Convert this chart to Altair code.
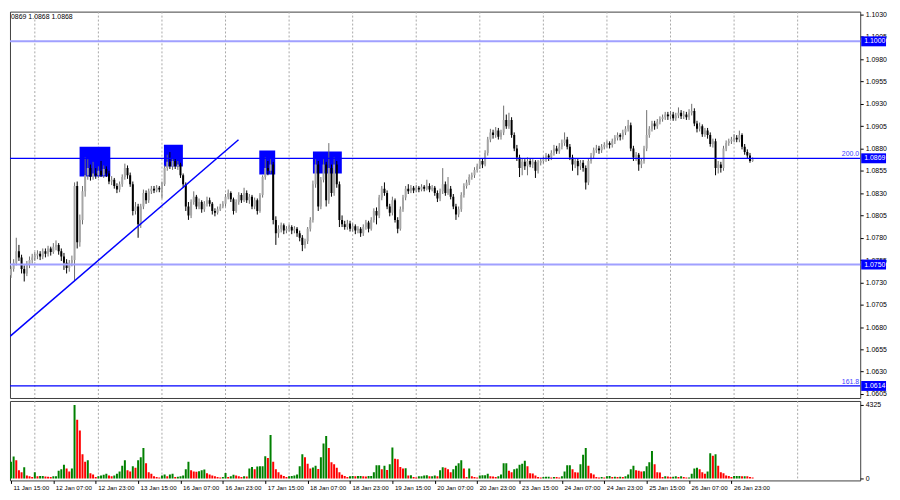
import altair as alt
import pandas as pd

# ---------------- data (prices in units of 1e-4, hourly bars from 11 Jan 12:00) ----------------
open_ = [
    10748,10745,10742,10738,10745,10752,10765,10758,10745,10740,10750,10755,
    10758,10760,10762,10759,10765,10762,10768,10764,10770,10772,10765,10759,
    10752,10746,10752,10755,10838,10775,10800,10832,10850,10858,10848,10852,
    10850,10855,10850,10857,10852,10843,10845,10838,10834,10840,10848,10858,
    10850,10840,10810,10815,10795,10815,10830,10822,10832,10835,10833,10836,
    10834,10840,10858,10865,10860,10866,10860,10862,10850,10840,10815,10805,
    10820,10826,10815,10820,10812,10818,10822,10818,10810,10808,10812,10815,
    10818,10826,10830,10823,10810,10820,10828,10822,10830,10822,10826,10815,
    10822,10810,10828,10848,10858,10855,10862,10800,10785,10790,10794,10788,
    10790,10792,10788,10790,10785,10780,10772,10776,10790,10800,10840,10862,
    10815,10845,10862,10822,10858,10830,10862,10840,10800,10795,10792,10796,
    10790,10793,10788,10790,10785,10792,10797,10790,10800,10810,10805,10825,
    10835,10830,10815,10808,10822,10800,10790,10812,10825,10835,10832,10836,
    10833,10836,10834,10837,10835,10838,10834,10836,10830,10824,10832,10840,
    10830,10835,10826,10815,10806,10812,10828,10838,10842,10848,10850,10856,
    10860,10866,10862,10875,10890,10898,10895,10900,10893,10898,10912,10905,
    10912,10895,10880,10870,10858,10865,10860,10866,10862,10865,10855,10864,
    10866,10868,10872,10870,10875,10880,10877,10882,10886,10890,10882,10870,
    10862,10866,10860,10864,10858,10842,10866,10872,10878,10880,10878,10882,
    10884,10886,10884,10888,10892,10895,10893,10898,10902,10906,10880,10870,
    10873,10862,10866,10880,10895,10902,10908,10905,10910,10913,10915,10918,
    10916,10918,10914,10917,10920,10916,10918,10915,10920,10922,10908,10902,
    10905,10896,10900,10895,10885,10888,10858,10862,10858,10880,10886,10888,
    10890,10892,10890,10895,10882,10876,10872,10866,
]
high = [
    10752,10749,10746,10748,10756,10780,10772,10761,10749,10754,10759,10762,
    10764,10766,10765,10768,10768,10771,10770,10774,10777,10774,10768,10763,
    10756,10755,10760,10842,10843,10806,10838,10870,10868,10862,10865,10858,
    10860,10866,10861,10860,10855,10849,10847,10841,10843,10851,10863,10861,
    10853,10843,10820,10818,10818,10834,10833,10835,10838,10838,10839,10838,
    10843,10861,10873,10876,10869,10869,10866,10864,10852,10842,10820,10823,
    10832,10828,10824,10822,10821,10826,10825,10820,10813,10815,10818,10821,
    10829,10834,10832,10825,10823,10831,10830,10836,10833,10829,10828,10825,
    10824,10830,10850,10870,10866,10868,10865,10804,10794,10797,10796,10793,
    10795,10794,10793,10792,10788,10783,10779,10792,10803,10844,10868,10866,
    10848,10868,10865,10886,10862,10870,10866,10843,10805,10799,10800,10799,
    10796,10795,10793,10792,10795,10800,10799,10803,10813,10814,10828,10838,
    10842,10833,10818,10826,10824,10803,10815,10828,10838,10840,10839,10838,
    10839,10838,10840,10839,10845,10841,10839,10838,10833,10835,10858,10843,
    10848,10838,10829,10818,10815,10831,10841,10845,10851,10853,10859,10863,
    10869,10869,10878,10893,10902,10901,10904,10903,10901,10928,10918,10920,
    10915,10898,10884,10873,10869,10868,10870,10869,10868,10867,10867,10869,
    10871,10875,10874,10878,10884,10883,10886,10890,10898,10893,10885,10873,
    10869,10869,10867,10867,10861,10869,10875,10881,10884,10883,10885,10887,
    10889,10888,10891,10895,10898,10897,10901,10905,10912,10909,10883,10876,
    10875,10869,10883,10923,10905,10911,10911,10913,10916,10918,10921,10921,
    10922,10921,10920,10926,10923,10922,10921,10924,10930,10925,10911,10909,
    10907,10903,10903,10898,10891,10891,10866,10865,10883,10889,10891,10893,
    10896,10895,10900,10897,10885,10879,10875,10870,
]
low = [
    10740,10736,10733,10735,10742,10749,10754,10740,10731,10737,10746,10751,
    10754,10756,10755,10756,10758,10759,10760,10762,10766,10761,10754,10744,
    10740,10742,10748,10732,10768,10770,10795,10826,10845,10844,10845,10846,
    10847,10848,10847,10848,10840,10839,10835,10830,10831,10837,10845,10846,
    10837,10805,10806,10780,10791,10812,10818,10819,10829,10830,10831,10831,
    10824,10838,10855,10857,10856,10857,10856,10847,10836,10810,10800,10802,
    10817,10812,10812,10808,10809,10815,10815,10806,10804,10806,10810,10813,
    10815,10823,10820,10806,10808,10817,10819,10820,10819,10818,10812,10812,
    10806,10808,10825,10845,10850,10852,10795,10772,10780,10786,10784,10785,
    10787,10784,10785,10781,10776,10765,10768,10773,10787,10797,10836,10810,
    10812,10842,10815,10818,10826,10827,10836,10792,10792,10789,10789,10787,
    10787,10784,10785,10781,10782,10789,10786,10788,10797,10795,10802,10822,
    10827,10812,10804,10805,10797,10785,10788,10809,10822,10829,10830,10830,
    10831,10831,10832,10832,10833,10831,10832,10827,10820,10821,10829,10827,
    10828,10823,10812,10800,10803,10809,10825,10835,10839,10845,10847,10853,
    10857,10858,10860,10872,10887,10891,10892,10890,10890,10895,10902,10902,
    10892,10877,10866,10848,10850,10856,10850,10859,10858,10847,10852,10861,
    10863,10865,10866,10867,10872,10874,10874,10879,10883,10879,10867,10855,
    10858,10850,10856,10854,10834,10839,10863,10869,10875,10874,10875,10879,
    10881,10880,10881,10885,10889,10889,10890,10895,10899,10877,10866,10866,
    10855,10858,10863,10877,10892,10899,10901,10902,10907,10910,10912,10912,
    10913,10911,10911,10914,10913,10913,10912,10912,10917,10905,10898,10899,
    10893,10893,10891,10882,10881,10850,10852,10853,10855,10877,10883,10885,
    10887,10887,10887,10879,10873,10869,10864,10865,
]
close = [
    10745,10742,10738,10745,10752,10765,10758,10745,10740,10750,10755,10758,
    10760,10762,10759,10765,10762,10768,10764,10770,10772,10765,10759,10752,
    10746,10752,10755,10838,10775,10800,10832,10850,10858,10848,10852,10850,
    10855,10850,10857,10852,10843,10845,10838,10834,10840,10848,10858,10850,
    10840,10810,10815,10795,10815,10830,10822,10832,10835,10833,10836,10834,
    10840,10858,10865,10860,10866,10860,10862,10850,10840,10815,10805,10820,
    10826,10815,10820,10812,10818,10822,10818,10810,10808,10812,10815,10818,
    10826,10830,10823,10810,10820,10828,10822,10830,10822,10826,10815,10822,
    10810,10828,10848,10858,10855,10862,10800,10785,10790,10794,10788,10790,
    10792,10788,10790,10785,10780,10772,10776,10790,10800,10840,10862,10815,
    10845,10862,10822,10858,10830,10862,10840,10800,10795,10792,10796,10790,
    10793,10788,10790,10785,10792,10797,10790,10800,10810,10805,10825,10835,
    10830,10815,10808,10822,10800,10790,10812,10825,10835,10832,10836,10833,
    10836,10834,10837,10835,10838,10834,10836,10830,10824,10832,10840,10830,
    10835,10826,10815,10806,10812,10828,10838,10842,10848,10850,10856,10860,
    10866,10862,10875,10890,10898,10895,10900,10893,10898,10912,10905,10912,
    10895,10880,10870,10858,10865,10860,10866,10862,10865,10855,10864,10866,
    10868,10872,10870,10875,10880,10877,10882,10886,10890,10882,10870,10862,
    10866,10860,10864,10858,10842,10866,10872,10878,10880,10878,10882,10884,
    10886,10884,10888,10892,10895,10893,10898,10902,10906,10880,10870,10873,
    10862,10866,10880,10895,10902,10908,10905,10910,10913,10915,10918,10916,
    10918,10914,10917,10920,10916,10918,10915,10920,10922,10908,10902,10905,
    10896,10900,10895,10885,10888,10858,10862,10858,10880,10886,10888,10890,
    10892,10890,10895,10882,10876,10872,10866,10868,
]
volume = [
    450,450,715,980,1290,1070,480,360,660,180,125,90,
    360,125,140,150,110,95,90,125,130,450,540,800,
    590,410,590,4325,3450,2820,1430,980,1070,300,230,90,
    125,180,215,270,180,125,180,270,410,750,1070,480,
    410,715,625,1070,1250,1790,890,360,270,125,90,55,
    180,230,125,230,270,90,95,125,180,540,980,480,
    410,400,420,480,520,300,230,180,125,90,55,90,
    320,90,125,215,180,125,90,125,120,590,680,540,
    700,715,720,1300,1200,2555,980,540,360,215,140,90,
    125,140,180,230,715,1430,1250,860,590,640,750,560,
    1250,2055,2500,1790,950,840,625,360,215,140,90,125,
    140,130,140,150,125,120,140,150,360,770,780,540,
    750,500,840,1820,1160,1125,680,590,600,180,185,90,
    55,125,130,180,185,125,130,180,125,480,660,625,
    540,360,540,750,890,1070,590,90,590,125,90,55,
    180,185,190,270,125,120,90,125,230,890,895,450,
    360,540,590,800,860,1040,715,300,290,180,90,55,
    90,95,100,55,90,85,55,125,410,770,775,540,
    360,350,840,1390,1790,750,300,230,90,55,90,55,
    125,140,90,95,90,95,90,125,230,540,750,480,
    450,410,420,715,950,1610,840,360,350,90,125,120,
    90,95,125,90,125,90,55,60,270,590,625,540,
    360,270,410,1480,1340,1430,750,360,300,180,140,90,
    140,145,150,125,130,125,90,55,
]

day_grid = [12, 36, 60, 84, 108, 132, 156, 180, 204, 228, 252, 276, 300]
time_label_bars = [3, 19, 35, 51, 67, 83, 99, 115, 131, 147, 163, 179, 195, 211, 227, 243, 259, 275]
time_labels = ["11 Jan 15:00", "12 Jan 07:00", "12 Jan 23:00", "13 Jan 15:00", "16 Jan 07:00",
               "16 Jan 23:00", "17 Jan 15:00", "18 Jan 07:00", "18 Jan 23:00", "19 Jan 15:00",
               "20 Jan 07:00", "20 Jan 23:00", "23 Jan 15:00", "24 Jan 07:00", "24 Jan 23:00",
               "25 Jan 15:00", "26 Jan 07:00", "26 Jan 23:00"]
price_ticks = [1.0605, 1.0630, 1.0655, 1.0680, 1.0705, 1.0730, 1.0755, 1.0780, 1.0805, 1.0830,
               1.0855, 1.0880, 1.0905, 1.0930, 1.0955, 1.0980, 1.1005, 1.1030]
volume_ticks = [0, 4325]

light_levels = [1.1000, 1.0750]
strong_levels = [1.0869, 1.0614]
box_levels = [1.1000, 1.0869, 1.0750, 1.0614]
fib_levels = [1.0869, 1.0614]
fib_labels = ["200.0", "161.8"]

# trend line: where it enters the visible window, and where it ends
trend_bars = [2.625, 88.9]
trend_prices = [1.06695, 1.08898]

rect_bar_start = [28.9, 60.75, 96.75, 117.0]
rect_bar_end = [40.5, 67.9, 102.75, 127.9]
rect_price_low = [1.08486, 1.08598, 1.08509, 1.08520]
rect_price_high = [1.08820, 1.08842, 1.08776, 1.08765]

header = ["0869 1.0868 1.0868"]

n = len(close)
for name, arr in [("open", open_), ("high", high), ("low", low), ("volume", volume)]:
    if len(arr) != n:
        raise ValueError(f"{name} has {len(arr)} values, expected {n}")

# ---------------- frames ----------------
df = pd.DataFrame({
    "t": list(range(n)),
    "o": [v / 1e4 for v in open_],
    "h": [v / 1e4 for v in high],
    "l": [v / 1e4 for v in low],
    "c": [v / 1e4 for v in close],
    "v": volume,
})
df["vdir"] = ["up" if i > 0 and volume[i] > volume[i - 1] else "down" for i in range(n)]

grid_df = pd.DataFrame({"t": day_grid})
light_df = pd.DataFrame({"p": light_levels})
strong_df = pd.DataFrame({"p": strong_levels})
box_df = pd.DataFrame({"p": box_levels})
fib_df = pd.DataFrame({"p": fib_levels, "lab": fib_labels})
trend_df = pd.DataFrame({"t": trend_bars, "p": trend_prices})
rect_df = pd.DataFrame({"t0": rect_bar_start, "t1": rect_bar_end,
                        "p0": rect_price_low, "p1": rect_price_high})
head_df = pd.DataFrame({"s": header})

W = 856
H_MAIN = 389
H_VOL = 80
FONT = "Liberation Sans"

xscale = alt.Scale(domain=[2.625, 2.625 + W / 2.6667], nice=False, zero=False, padding=0)
yscale = alt.Scale(domain=[1.06005, 1.10333], nice=False, zero=False, padding=0)
yaxis = alt.Axis(orient="right", values=price_ticks, format=".4f", title=None, grid=False,
                 tickSize=3, tickColor="#000000", labelFontSize=7, labelPadding=2,
                 labelColor="#000000", domain=False, labelOverlap=False, labelFlush=False,
                 labelFont=FONT)


def X(field):
    return alt.X(field, type="quantitative", scale=xscale, axis=None)


def Y(field):
    return alt.Y(field, type="quantitative", scale=yscale, axis=yaxis)


grid = alt.Chart(grid_df).mark_rule(color="#a8a8a8", strokeDash=[2, 2], strokeWidth=1).encode(x=X("t"))

rects = alt.Chart(rect_df).mark_rect(color="#0000ff", clip=True).encode(
    x=X("t0"), x2="t1:Q", y=Y("p0"), y2="p1:Q")

wicks = alt.Chart(df).mark_rule(strokeWidth=1, clip=True).encode(
    x=X("t"), y=Y("l"), y2="h:Q",
    color=alt.condition("datum.c > datum.o", alt.value("#6e6e6e"), alt.value("#000000")))

bodies = alt.Chart(df).mark_bar(size=2, clip=True).encode(
    x=X("t"), y=Y("o"), y2="c:Q",
    color=alt.condition("datum.c > datum.o", alt.value("#a6a6a6"), alt.value("#000000")))

light = alt.Chart(light_df).mark_rule(color="#a0a0ff", strokeWidth=2).encode(y=Y("p"))
strong = alt.Chart(strong_df).mark_rule(color="#0000ff", strokeWidth=1.3).encode(y=Y("p"))

trend = alt.Chart(trend_df).mark_line(color="#0000ff", strokeWidth=1.5, clip=True).encode(
    x=X("t"), y=Y("p"))

fib = alt.Chart(fib_df).mark_text(align="right", baseline="bottom", fontSize=7, dy=-1,
                                  color="#4040ff", font=FONT).encode(
    x=alt.value(W - 1), y=Y("p"), text="lab:N")

boxes = alt.Chart(box_df).mark_rule(color="#0000ff", strokeWidth=10).encode(
    x=alt.value(W + 1), x2=alt.value(W + 26), y=Y("p"))

box_text = alt.Chart(box_df).mark_text(color="#ffffff", fontSize=7, align="left",
                                       baseline="middle", font=FONT).encode(
    x=alt.value(W + 4), y=Y("p"), text=alt.Text("p:Q", format=".4f"))

head = alt.Chart(head_df).mark_text(align="left", baseline="middle", fontSize=7,
                                    color="#000000", font=FONT).encode(
    x=alt.value(1), y=alt.value(5), text="s:N")

main = alt.layer(grid, rects, wicks, bodies, light, strong, trend, fib, boxes, box_text, head).properties(
    width=W, height=H_MAIN)

label_expr = ("[" + ",".join(f"'{s}'" for s in time_labels) + "][indexof(["
              + ",".join(str(v) for v in time_label_bars) + "], datum.value)]")

xaxis_vol = alt.Axis(values=time_label_bars, labelExpr=label_expr, grid=False, ticks=True,
                     tickSize=3, tickColor="#000000", labelFontSize=6.3, labelAlign="left",
                     labelBaseline="top", labelPadding=1, labelOffset=2, domain=False,
                     labelOverlap=False, labelFlush=False, title=None, labelColor="#000000",
                     labelFont=FONT)
vscale = alt.Scale(domain=[-117, 4559], nice=False, zero=False, padding=0)
vaxis = alt.Axis(orient="right", values=volume_ticks, format="d", title=None, grid=False,
                 tickSize=3, tickColor="#000000", labelFontSize=7, labelPadding=2,
                 labelColor="#000000", domain=False, labelOverlap=False, labelFlush=False,
                 labelFont=FONT)

vgrid = alt.Chart(grid_df).mark_rule(color="#a8a8a8", strokeDash=[2, 2], strokeWidth=1).encode(
    x=alt.X("t:Q", scale=xscale, axis=xaxis_vol))
vbars = alt.Chart(df).mark_bar(size=2, clip=True).encode(
    x=alt.X("t:Q", scale=xscale, axis=xaxis_vol),
    y=alt.Y("v:Q", scale=vscale, axis=vaxis),
    y2=alt.datum(0),
    color=alt.condition("datum.vdir == 'up'", alt.value("#008000"), alt.value("#ff0000")))

vol = alt.layer(vgrid, vbars).properties(width=W, height=H_VOL)

chart = alt.vconcat(main, vol, spacing=1).properties(
    padding={"left": 0, "top": 0, "right": 0, "bottom": 0},
    autosize=alt.AutoSizeParams(type="pad", contains="content"),
    background="#ffffff",
).configure_view(stroke="#404040", strokeWidth=1).configure_text(font=FONT)

chart.save("out.html", embed_options={"renderer": "svg", "actions": False})
